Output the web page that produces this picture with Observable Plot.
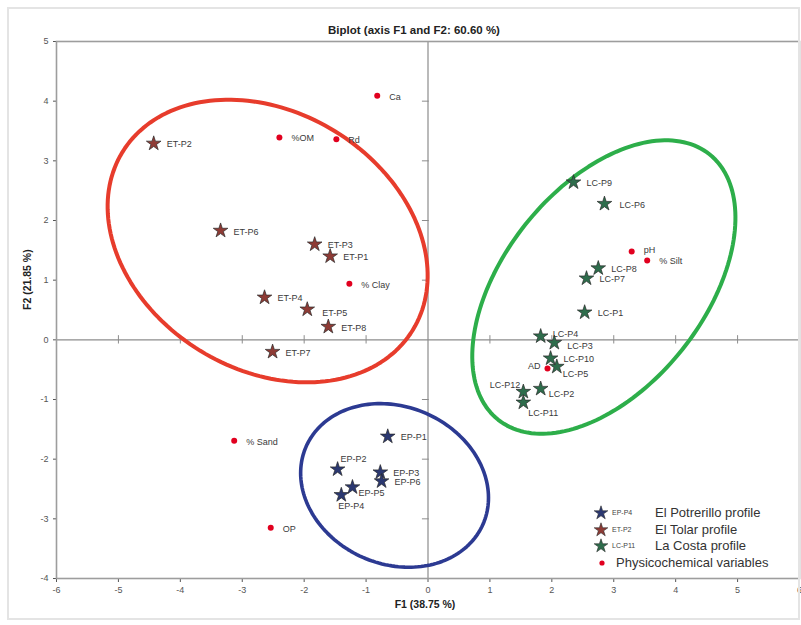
<!DOCTYPE html>
<html><head><meta charset="utf-8">
<script src="https://cdn.jsdelivr.net/npm/d3@7"></script>
<script src="https://cdn.jsdelivr.net/npm/@observablehq/plot@0.6"></script>
<style>
body{margin:0;background:#fff;font-family:"Liberation Sans",Arial,sans-serif;}
#wrap{position:relative;width:801px;height:625px;overflow:hidden}
#border{position:absolute;left:7px;top:7px;width:793px;height:613px;border:2px solid #e4e4e4;box-sizing:border-box;pointer-events:none}
#chart{position:absolute;left:0;top:0}
.lg{position:absolute;height:16px;line-height:16px;white-space:nowrap;color:#333}
.lg svg{position:absolute;left:0;top:0;overflow:visible}
.lg .code{position:absolute;font-size:7px;color:#444}
.lg .name{position:absolute;font-size:13px}
</style></head>
<body><div id="wrap"><div id="chart"></div><div id="border"></div></div>
<script>
// ---- data ----
const xTicks = [-6,-5,-4,-3,-2,-1,0,1,2,3,4,5,6];
const yTicks = [-4,-3,-2,-1,0,1,2,3,4,5];

const varNames = ["Ca","%OM","Rd","% Clay","pH","% Silt","AD","% Sand","OP"];
const varF1    = [-0.82,-2.40,-1.48,-1.27,3.29,3.54,1.93,-3.13,-2.54];
const varF2    = [4.09,3.39,3.36,0.94,1.48,1.33,-0.48,-1.69,-3.15];

const etNames = ["ET-P1","ET-P2","ET-P3","ET-P4","ET-P5","ET-P6","ET-P7","ET-P8"];
const etF1    = [-1.58,-4.43,-1.83,-2.64,-1.95,-3.35,-2.51,-1.61];
const etF2    = [1.40,3.29,1.60,0.71,0.51,1.83,-0.20,0.22];

const lcNames = ["LC-P1","LC-P2","LC-P3","LC-P4","LC-P5","LC-P6","LC-P7","LC-P8","LC-P9","LC-P10","LC-P11","LC-P12"];
const lcF1    = [2.53,1.82,2.04,1.82,2.08,2.85,2.56,2.75,2.35,1.98,1.54,1.54];
const lcF2    = [0.46,-0.82,-0.05,0.06,-0.45,2.28,1.03,1.20,2.64,-0.31,-1.05,-0.87];

const epNames = ["EP-P1","EP-P2","EP-P3","EP-P4","EP-P5","EP-P6"];
const epF1    = [-0.65,-1.46,-0.77,-1.40,-1.22,-0.75];
const epF2    = [-1.62,-2.17,-2.22,-2.60,-2.47,-2.37];

const legendCodes = ["EP-P4","ET-P2","LC-P11",""];
const legendNames = ["El Potrerillo profile","El Tolar profile","La Costa profile","Physicochemical variables"];

// group ellipses: centre (F1,F2), semi-axes (F1 units), tilt (deg, clockwise on screen)
const ellipseGroups = ["ET","LC","EP"];
const ellipseCx = [-2.59, 2.84, -0.54];
const ellipseCy = [1.656, 0.885, -2.44];
const ellipseA  = [2.75, 2.74, 1.56];
const ellipseB  = [2.08, 1.62, 1.27];
const ellipseTilt = [31.5, -51.5, 23.7];

// ---- styles ----
const colors = {ET:"#8e3b35", LC:"#2e6d4c", EP:"#2b3871", VAR:"#e1001f"};
const ellipseColors = {ET:"#e73c2c", LC:"#2dae4a", EP:"#2c3a92"};
const ellipseWidths = {ET:4, LC:4, EP:3.6};
const labelOffsets = {
  "EP-P2":[3,-10,"start"], "EP-P4":[-3,11,"start"], "EP-P5":[6,6,"start"],
  "LC-P11":[5,11,"start"], "LC-P12":[-3,-7,"end"], "LC-P5":[6,7,"start"],
  "LC-P2":[8,5,"start"], "ET-P5":[15,4,"start"], "AD":[-7,-2,"end"], "pH":[12,-1,"start"],
  "LC-P6":[15,1,"start"], "LC-P4":[12,-2,"start"], "LC-P3":[13,3,"start"]
};

const W = 801, H = 625, mL = 56, mR = 2, mT = 41, mB = 47;
const kx = (W - mL - mR) / 12, ky = (H - mT - mB) / 9;

const rows = [];
const add = (g, names, f1, f2) => names.forEach((n,i) => rows.push({group:g, name:n, F1:f1[i], F2:f2[i]}));
add("ET", etNames, etF1, etF2);
add("LC", lcNames, lcF1, lcF2);
add("EP", epNames, epF1, epF2);
add("VAR", varNames, varF1, varF2);

// ellipse outlines
const ellPts = [];
ellipseGroups.forEach((g,i) => {
  const a = ellipseA[i]*kx, b = ellipseB[i]*kx, th = ellipseTilt[i]*Math.PI/180;
  for (let d = 0; d <= 360; d += 2) {
    const t = d*Math.PI/180;
    const px = a*Math.cos(th)*Math.cos(t) - b*Math.sin(th)*Math.sin(t);
    const py = a*Math.sin(th)*Math.cos(t) + b*Math.cos(th)*Math.sin(t);
    ellPts.push({group:g, F1: ellipseCx[i] + px/kx, F2: ellipseCy[i] - py/ky});
  }
});

// label marks grouped by offset
const labelMarks = [];
const keyOf = r => {
  const o = labelOffsets[r.name] || (r.group === "VAR" ? [12,1,"start"] : [13,1,"start"]);
  return o.join("|");
};
d3.groups(rows, keyOf).forEach(([k, rs]) => {
  const [dx, dy, anchor] = k.split("|");
  labelMarks.push(Plot.text(rs, {x:"F1", y:"F2", text:"name", dx:+dx, dy:+dy, textAnchor:anchor,
    fill:"#3a3a3a", fontSize:9}));
});

const chart = Plot.plot({
  width: W, height: H,
  marginLeft: mL, marginRight: mR, marginTop: mT, marginBottom: mB,
  style: {fontFamily:"'Liberation Sans', Arial, sans-serif", fontSize:"9px", color:"#555", background:"transparent"},
  x: {domain:[-6,6], ticks:xTicks, tickSize:4, tickPadding:4, label:null, tickFormat:d=>d},
  y: {domain:[-4,5], ticks:yTicks, tickSize:3, tickPadding:5, label:null, tickFormat:d=>d},
  marks: [
    Plot.ruleX([0], {stroke:"#8c8c8c", strokeWidth:1.2}),
    Plot.ruleY([0], {stroke:"#8c8c8c", strokeWidth:1.2}),
    Plot.ruleX(xTicks.filter(d=>d!==0 && Math.abs(d)!==6), {x:d=>d, y1:-0.07, y2:0.07, stroke:"#8c8c8c"}),
    Plot.ruleY(yTicks.filter(d=>d!==0 && d!==-4 && d!==5), {y:d=>d, x1:-0.09, x2:0.02, stroke:"#8c8c8c"}),
    Plot.frame({stroke:"#9d9d9d", strokeWidth:1.6}),
    ...ellipseGroups.map(g => Plot.line(ellPts.filter(p=>p.group===g), {x:"F1", y:"F2",
      stroke:ellipseColors[g], strokeWidth:ellipseWidths[g], curve:"linear"})),
    ...labelMarks,
    Plot.dot(rows.filter(r=>r.group==="VAR"), {x:"F1", y:"F2", r:3, fill:colors.VAR}),
    ...["ET","LC","EP"].map(g => Plot.dot(rows.filter(r=>r.group===g), {x:"F1", y:"F2",
      symbol:"star", r:4.6, fill:colors[g], stroke:"#2a2a2a", strokeWidth:0.7})),
    Plot.text(["Biplot (axis F1 and F2: 60.60 %)"], {frameAnchor:"top", dy:-16, dx:-14, text:d=>d,
      fontWeight:"bold", fontSize:11.5, fill:"#222"}),
    Plot.text(["F1 (38.75 %)"], {frameAnchor:"bottom", dy:29, dx:-3, text:d=>d,
      fontWeight:"bold", fontSize:10.5, fill:"#222"}),
    Plot.text(["F2 (21.85 %)"], {frameAnchor:"left", dx:-29, rotate:-90, text:d=>d,
      fontWeight:"bold", fontSize:10.5, fill:"#222"})
  ]
});
document.getElementById("chart").appendChild(chart);

// legend
const wrap = document.getElementById("wrap");
const starPath = d3.symbol(d3.symbolStar, 58)();
const legColors = [colors.EP, colors.ET, colors.LC, colors.VAR];
legendNames.forEach((name,i) => {
  const div = document.createElement("div");
  div.className = "lg";
  div.style.left = "601px";
  div.style.top = (505 + i*16.6) + "px";
  const sym = i < 3
    ? `<path d="${starPath}" transform="translate(0,8)" fill="${legColors[i]}" stroke="#2a2a2a" stroke-width="0.6"/>`
    : `<circle cx="1" cy="8" r="2.6" fill="${legColors[i]}"/>`;
  div.innerHTML = `<svg width="12" height="16">${sym}</svg>` +
    (legendCodes[i] ? `<span class="code" style="left:11px">${legendCodes[i]}</span>` : "") +
    `<span class="name" style="left:${i<3?54:15}px">${name}</span>`;
  wrap.appendChild(div);
});
</script>
</body></html>
